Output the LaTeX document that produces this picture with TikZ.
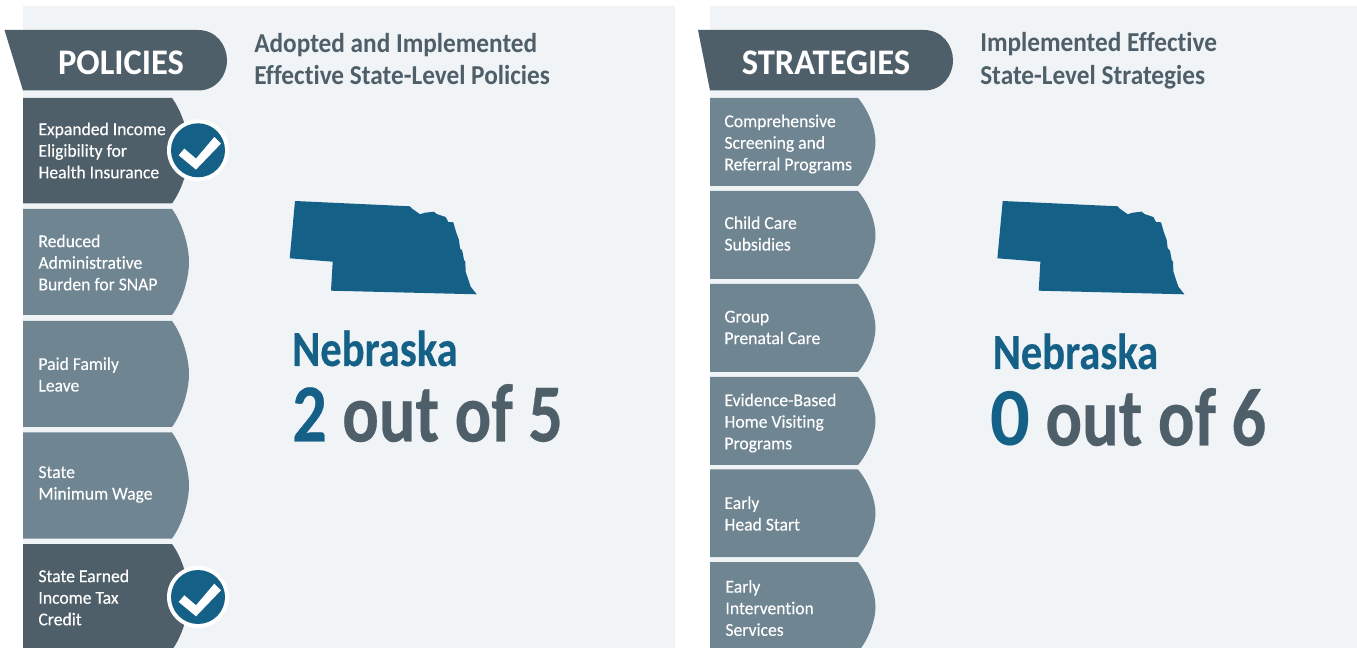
\documentclass[tikz,border=0pt]{standalone}
\usepackage{fontspec}
\setmainfont{Carlito}
\newfontfamily\itemfont[FakeStretch=0.97,FakeBold=0.12,Ligatures=NoCommon]{Carlito}
\newfontfamily\bannerfont[FakeStretch=0.96,Ligatures=NoCommon]{Carlito}
\newfontfamily\headfont[FakeStretch=0.925,Ligatures=NoCommon]{Carlito}
\newfontfamily\namefont[FakeStretch=0.84,FakeBold=0.3,Ligatures=NoCommon]{Carlito}
\newfontfamily\countfont[FakeStretch=0.825,FakeBold=0.3,Ligatures=NoCommon]{Carlito}
\newfontfamily\zerofont[FakeStretch=0.95,Ligatures=NoCommon]{Carlito}
\definecolor{panelbg}{HTML}{F0F4F7}
\definecolor{darkslate}{HTML}{4F5F69}
\definecolor{itemslate}{HTML}{708592}
\definecolor{stateblue}{HTML}{156087}
\tikzset{
  px/.style={x=0.75pt,y=-0.75pt},
  panel/.style={fill=panelbg,draw=none},
  banner/.style={fill=darkslate,draw=none},
  itemoff/.style={fill=itemslate,draw=none},
  itemon/.style={fill=darkslate,draw=none},
  statemap/.style={fill=stateblue,draw=none},
  itemtext/.style={text=white,font=\itemfont\fontsize{13.6}{16.2}\selectfont,align=left,anchor=west,inner sep=0pt},
  bannertext/.style={text=white,font=\bannerfont\fontsize{27}{30}\selectfont\bfseries,anchor=center,inner sep=0pt},
  headtext/.style={text=darkslate,font=\headfont\fontsize{20.5}{24.7}\selectfont\bfseries,align=left,anchor=west,inner sep=0pt},
  nametext/.style={text=stateblue,font=\namefont\fontsize{38}{40}\selectfont\bfseries,anchor=base west,inner sep=0pt},
  counttext/.style={text=darkslate,font=\countfont\fontsize{62}{64}\selectfont\bfseries,anchor=base west,inner sep=0pt},
  checkring/.style={circle,fill=white,draw=none,minimum size=46.5pt,inner sep=0pt},
  checkdisc/.style={circle,fill=stateblue,draw=none,minimum size=40.5pt,inner sep=0pt},
}
\newcommand{\leftitem}[3]{\fill[#3] (23,#1) -- (172,#1) .. controls (183,{#1+15}) and (189,{(#1+#2)/2-15}) .. (189,{(#1+#2)/2}) .. controls (189,{(#1+#2)/2+15}) and (183,{#2-15}) .. (172,#2) -- (23,#2) -- cycle;}
\newcommand{\rightitem}[3]{\fill[#3] (710,#1) -- (858,#1) .. controls (869,{#1+13}) and (875.5,{(#1+#2)/2-13}) .. (875.5,{(#1+#2)/2}) .. controls (875.5,{(#1+#2)/2+13}) and (869,{#2-13}) .. (858,#2) -- (710,#2) -- cycle;}
\newcommand{\statepath}{(0,0) -- (115,5.3) -- (116.7,7.3) -- (125,13.3) -- (130,11.7) -- (139,10.7) -- (141.7,13) -- (150.7,16) -- (153.3,21) -- (158.3,21.3) -- (161,30.7) -- (164,39) -- (165,47.3) -- (167.3,49.7) -- (169,59) -- (170.3,60.7) -- (170.7,70.7) -- (174,80.7) -- (175.7,85.7) -- (181.7,93.3) -- (36,89.7) -- (37.7,60.7) -- (-5.3,57.3) -- cycle}
\newcommand{\tick}[2]{\fill[white] (#1-19.3,#2+5) -- (#1-13.7,#2-1.7) -- (#1-2,#2+8.3) -- (#1+16.3,#2-13.3) -- (#1+23,#2-6.7) -- (#1-2,#2+19.3) -- cycle;}
\begin{document}
\begin{tikzpicture}[px]
\useasboundingbox (0,0) rectangle (1357,648);
\fill[white] (0,0) rectangle (1357,648);
\fill[panel] (23,6) rectangle (675,648);
\fill[panel] (710,6) rectangle (1357,648);
% banners
\fill[banner] (4.5,30) -- (198,30) .. controls (216,30) and (227,45) .. (227,60.3) .. controls (227,76) and (216,90.5) .. (198,90.5) -- (23,90.5) -- cycle;
\fill[banner] (698,30) -- (924,30) .. controls (942,30) and (953,45) .. (953,60.3) .. controls (953,76) and (942,90.5) .. (924,90.5) -- (710,90.5) -- cycle;
\node[bannertext] (policies) at (121,62.5) {POLICIES};
\node[bannertext] (strategies) at (826,62.5) {STRATEGIES};
% heads
\node[headtext] (headL) at (254,59) {Adopted and Implemented\\Effective State-Level Policies};
\node[headtext] (headR) at (980,61) {Implemented Effective\\State-Level Strategies};
% items
\begin{scope}
\clip (0,0) rectangle (1357,648);
\leftitem{98}{203.5}{itemon}
\leftitem{209}{315}{itemoff}
\leftitem{321}{427}{itemoff}
\leftitem{432.5}{538.5}{itemoff}
\leftitem{544}{650}{itemon}
\rightitem{98}{186}{itemoff}
\rightitem{191}{279}{itemoff}
\rightitem{284}{372}{itemoff}
\rightitem{377}{465}{itemoff}
\rightitem{469.5}{557}{itemoff}
\rightitem{562}{652}{itemoff}
\end{scope}
\node[itemtext] (l1) at (38.2,150.5) {Expanded Income\\Eligibility for\\Health Insurance};
\node[itemtext] (l2) at (38.2,262.5) {Reduced\\Administrative\\Burden for SNAP};
\node[itemtext] (l3) at (38.2,374.5) {Paid Family\\Leave};
\node[itemtext] (l4) at (38.2,484.5) {State\\Minimum Wage};
\node[itemtext] (l5) at (38.2,597.5) {State Earned\\Income Tax\\Credit};
\node[itemtext] (r1) at (724.2,144) {Comprehensive\\Screening and\\Referral Programs};
\node[itemtext] (r2) at (724.2,233.5) {Child Care\\Subsidies};
\node[itemtext] (r3) at (724.2,327.5) {Group\\Prenatal Care};
\node[itemtext] (r4) at (724.2,423) {Evidence-Based\\Home Visiting\\Programs};
\node[itemtext] (r5) at (724.2,513.5) {Early\\Head Start};
\node[itemtext] (r6) at (725.2,608) {Early\\Intervention\\Services};
% checks
\node[checkring] (ring1) at (198,150.3) {};
\node[checkdisc] (disc1) at (198,150.3) {};
\tick{198}{150.3}
\node[checkring] (ring2) at (198,597) {};
\node[checkdisc] (disc2) at (198,597) {};
\tick{198}{597}
% maps
\begin{scope}[shift={(295,201)}]
\fill[statemap] \statepath;
\end{scope}
\begin{scope}[shift={(1002.7,201)}]
\fill[statemap] \statepath;
\end{scope}
% big text
\node[nametext] (nameL) at (292,366) {Nebraska};
\node[nametext] (nameR) at (992.5,369) {Nebraska};
\node[counttext] (countL) at (292,441.5) {\textcolor{stateblue}{2} out of 5};
\node[counttext] (countR) at (990,445.5) {\textcolor{stateblue}{\zerofont 0} out of 6};
\end{tikzpicture}
\end{document}
